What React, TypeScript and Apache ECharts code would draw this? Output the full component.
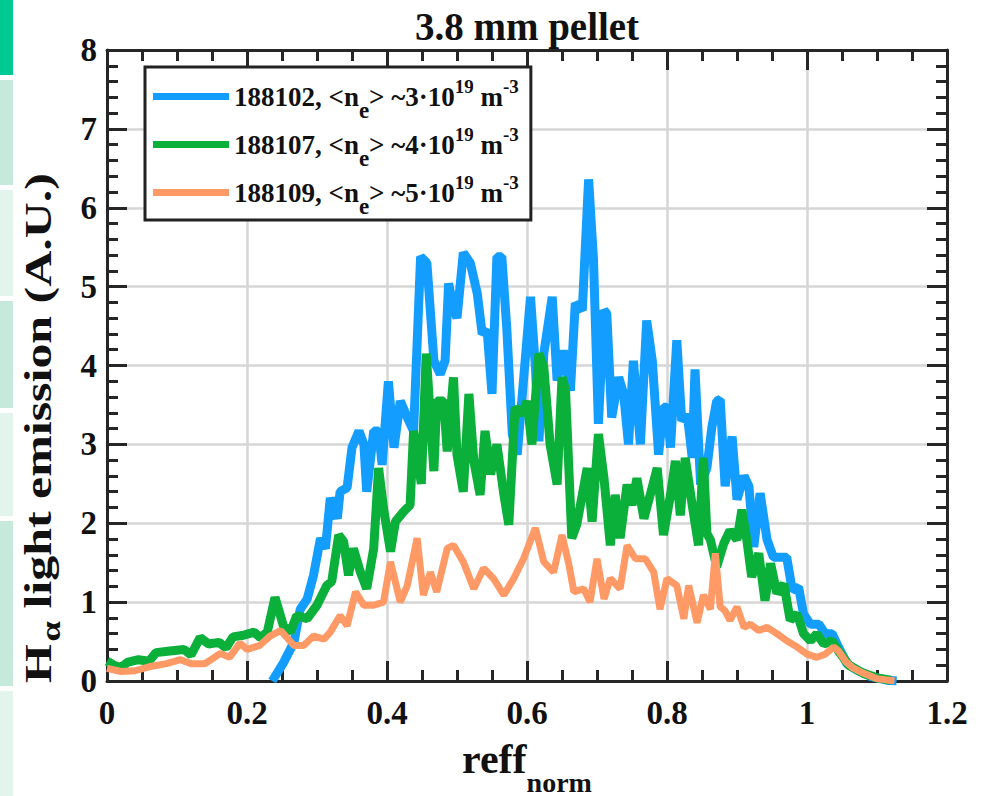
import React, { useEffect, useRef } from "react";
import * as echarts from "echarts";

// ---- data (reff_norm, H-alpha emission A.U.) ----
const seriesNames = ["188102", "188107", "188109"];

const blueX = [0.236, 0.252, 0.267, 0.276, 0.286, 0.295, 0.305, 0.312, 0.319, 0.329, 0.333, 0.343, 0.35, 0.36, 0.367, 0.371, 0.381, 0.388, 0.393, 0.402, 0.41, 0.419, 0.429, 0.438, 0.448, 0.457, 0.467, 0.476, 0.483, 0.488, 0.495, 0.5, 0.509, 0.519, 0.529, 0.536, 0.543, 0.55, 0.557, 0.564, 0.571, 0.579, 0.586, 0.595, 0.605, 0.612, 0.617, 0.624, 0.636, 0.643, 0.652, 0.662, 0.669, 0.679, 0.688, 0.695, 0.702, 0.71, 0.714, 0.721, 0.731, 0.738, 0.745, 0.752, 0.762, 0.771, 0.779, 0.788, 0.795, 0.8, 0.805, 0.814, 0.821, 0.829, 0.836, 0.84, 0.848, 0.857, 0.864, 0.871, 0.876, 0.883, 0.893, 0.9, 0.91, 0.917, 0.924, 0.933, 0.943, 0.952, 0.962, 0.971, 0.979, 0.988, 0.995, 1.005, 1.017, 1.026, 1.036, 1.045, 1.057, 1.071, 1.09, 1.114, 1.128];
const blueY = [0, 0.23, 0.49, 0.91, 1.04, 1.34, 1.81, 1.68, 2.32, 2.06, 2.4, 2.45, 2.96, 3.17, 3.0, 2.4, 3.17, 3.17, 2.74, 3.8, 2.96, 3.55, 3.34, 3.17, 5.38, 5.3, 4.06, 3.89, 4.06, 5.04, 4.74, 4.6, 5.43, 5.3, 4.91, 4.4, 4.45, 3.64, 5.38, 5.38, 4.49, 3.13, 2.87, 3.81, 4.87, 3.98, 3.04, 4.15, 4.87, 3.81, 4.19, 3.68, 4.79, 4.7, 6.36, 5.34, 3.26, 4.7, 4.66, 3.34, 3.85, 3.64, 3.0, 4.06, 3.0, 4.57, 4.06, 2.87, 3.47, 3.47, 2.96, 4.32, 3.3, 3.38, 2.83, 3.95, 2.49, 2.7, 3.21, 3.55, 3.57, 2.47, 3.1, 2.3, 2.6, 2.47, 1.7, 2.38, 1.79, 1.57, 1.57, 1.57, 1.15, 1.19, 0.85, 0.72, 0.72, 0.6, 0.6, 0.43, 0.22, 0.14, 0.06, 0.01, 0.0];

const greenX = [0, 0.01, 0.02, 0.03, 0.045, 0.06, 0.07, 0.09, 0.11, 0.12, 0.133, 0.145, 0.16, 0.17, 0.18, 0.195, 0.21, 0.219, 0.229, 0.24, 0.252, 0.262, 0.271, 0.286, 0.3, 0.314, 0.321, 0.331, 0.338, 0.345, 0.352, 0.362, 0.371, 0.381, 0.388, 0.395, 0.405, 0.412, 0.424, 0.433, 0.438, 0.445, 0.449, 0.456, 0.467, 0.471, 0.481, 0.486, 0.495, 0.5, 0.509, 0.517, 0.524, 0.533, 0.54, 0.548, 0.557, 0.567, 0.574, 0.583, 0.593, 0.6, 0.607, 0.617, 0.624, 0.633, 0.643, 0.65, 0.655, 0.664, 0.671, 0.679, 0.686, 0.693, 0.702, 0.71, 0.719, 0.726, 0.733, 0.743, 0.75, 0.757, 0.767, 0.776, 0.786, 0.795, 0.805, 0.812, 0.819, 0.826, 0.836, 0.845, 0.852, 0.857, 0.862, 0.871, 0.881, 0.89, 0.9, 0.907, 0.914, 0.921, 0.931, 0.94, 0.948, 0.957, 0.967, 0.976, 0.986, 0.995, 1.005, 1.014, 1.024, 1.036, 1.045, 1.06, 1.08, 1.1, 1.12];
const greenY = [0.25, 0.2, 0.17, 0.24, 0.27, 0.25, 0.36, 0.38, 0.4, 0.33, 0.55, 0.47, 0.49, 0.42, 0.56, 0.58, 0.62, 0.55, 0.62, 1.06, 0.7, 0.62, 0.83, 0.79, 0.96, 1.21, 1.26, 1.85, 1.77, 1.34, 1.68, 1.38, 1.17, 1.68, 2.7, 2.19, 1.64, 2.02, 2.15, 2.23, 3.17, 2.74, 2.5, 4.15, 2.66, 3.55, 3.55, 2.91, 3.85, 2.87, 2.4, 3.64, 2.79, 2.36, 3.17, 2.62, 3.0, 2.36, 1.98, 3.47, 3.38, 3.55, 3.0, 4.15, 3.98, 3.0, 2.49, 3.85, 3.7, 1.81, 1.98, 2.36, 2.7, 2.02, 3.13, 2.57, 1.72, 2.36, 1.81, 2.49, 2.23, 2.57, 2.06, 2.36, 2.7, 1.85, 2.36, 2.79, 2.1, 2.83, 2.23, 1.72, 2.83, 1.87, 1.79, 1.45, 1.74, 1.91, 1.79, 2.17, 1.79, 1.32, 1.62, 1.02, 1.49, 1.11, 1.23, 0.77, 0.85, 0.6, 0.51, 0.6, 0.47, 0.51, 0.38, 0.2, 0.1, 0.04, 0.01];

const orangeX = [0, 0.02, 0.04, 0.06, 0.085, 0.105, 0.12, 0.14, 0.162, 0.175, 0.19, 0.2, 0.218, 0.233, 0.248, 0.267, 0.281, 0.295, 0.31, 0.319, 0.333, 0.343, 0.355, 0.367, 0.381, 0.395, 0.405, 0.419, 0.429, 0.443, 0.452, 0.462, 0.471, 0.486, 0.495, 0.509, 0.524, 0.538, 0.552, 0.567, 0.581, 0.595, 0.612, 0.624, 0.638, 0.65, 0.66, 0.667, 0.681, 0.69, 0.7, 0.71, 0.719, 0.733, 0.743, 0.755, 0.769, 0.781, 0.79, 0.8, 0.814, 0.824, 0.831, 0.843, 0.852, 0.862, 0.869, 0.876, 0.883, 0.89, 0.9, 0.91, 0.919, 0.931, 0.943, 0.957, 0.971, 0.986, 1.0, 1.014, 1.026, 1.038, 1.045, 1.055, 1.065, 1.08, 1.1, 1.125];
const orangeY = [0.16, 0.12, 0.13, 0.18, 0.22, 0.27, 0.22, 0.22, 0.35, 0.3, 0.48, 0.4, 0.45, 0.57, 0.64, 0.45, 0.45, 0.57, 0.53, 0.62, 0.83, 0.7, 1.13, 0.96, 0.96, 1.0, 1.51, 1.0, 1.21, 1.81, 1.09, 1.38, 1.13, 1.68, 1.72, 1.51, 1.17, 1.43, 1.3, 1.09, 1.3, 1.55, 1.94, 1.51, 1.38, 1.85, 1.47, 1.13, 1.17, 1.0, 1.55, 1.04, 1.3, 1.17, 1.72, 1.55, 1.55, 1.38, 0.91, 1.3, 1.21, 0.79, 1.21, 0.74, 1.09, 0.91, 1.62, 0.94, 0.89, 0.77, 0.94, 0.68, 0.72, 0.64, 0.68, 0.6, 0.51, 0.43, 0.34, 0.3, 0.34, 0.43, 0.38, 0.25, 0.17, 0.1, 0.03, 0.0];

const densities = ["3", "4", "5"];
const colors = ["#139eff", "#0bb03b", "#ff9a66"];
const stripBlocks = [
  [0, 75, "#00c993"],
  [80, 185, "#c5eadb"],
  [190, 296, "#e2f4ec"],
  [301, 408, "#c5eadb"],
  [413, 516, "#e2f4ec"],
  [521, 686, "#c5eadb"],
  [691, 796, "#e2f4ec"],
];

const zip = (xs: number[], ys: number[]) => xs.map((x, i) => [x, ys[i]]);

export default function App() {
  const ref = useRef<HTMLDivElement>(null);

  useEffect(() => {
    document.body.style.margin = "0";
    const chart = echarts.init(ref.current!, null, { renderer: "svg" });
    const serif = "'Liberation Serif', 'Times New Roman', serif";
    const ink = "#111111";
    const axisColor = "#262626";

    const legendLabel: Record<string, string> = {};
    seriesNames.forEach((n, i) => {
      legendLabel[n] = `{n|${n}, <n}{e|e}{n|> ~${densities[i]}·10}{s|19}{n| m}{s|-3}`;
    });

    const xBase = {
      type: "value",
      min: 0,
      max: 1.2,
      interval: 0.2,
      axisLine: { show: true, onZero: false, lineStyle: { color: axisColor, width: 3 } },
      axisTick: { show: true, inside: true, length: 20, lineStyle: { color: axisColor, width: 3 } },
      minorTick: { show: true, splitNumber: 4, length: 11, lineStyle: { color: axisColor, width: 3 } },
    };
    const yBase = {
      type: "value",
      min: 0,
      max: 8,
      interval: 1,
      axisLine: { show: true, onZero: false, lineStyle: { color: axisColor, width: 3 } },
      axisTick: { show: true, inside: true, length: 20, lineStyle: { color: axisColor, width: 3 } },
      minorTick: { show: true, splitNumber: 5, length: 11, lineStyle: { color: axisColor, width: 3 } },
    };
    const tickLabel = { fontFamily: serif, fontWeight: "bold", fontSize: 33, color: ink };

    const option: any = {
      animation: false,
      backgroundColor: "#ffffff",
      grid: { left: 107, right: 37, top: 50, bottom: 115, containLabel: false, outerBoundsMode: "none" },
      legend: {
        orient: "vertical",
        left: 145,
        top: 67,
        data: seriesNames,
        icon: "rect",
        itemWidth: 76,
        itemHeight: 7,
        itemGap: -3,
        padding: [4, 12, 2, 8],
        backgroundColor: "#ffffff",
        borderColor: "#222222",
        borderWidth: 3,
        formatter: (name: string) => legendLabel[name],
        textStyle: {
          color: ink,
          lineHeight: 44,
          rich: {
            n: { fontFamily: serif, fontWeight: "bold", fontSize: 27, lineHeight: 44, color: ink },
            e: { fontFamily: serif, fontWeight: "bold", fontSize: 23, lineHeight: 44, padding: [28, 0, 0, 0], color: ink },
            s: { fontFamily: serif, fontWeight: "bold", fontSize: 19, lineHeight: 44, padding: [0, 0, 20, 0], color: ink },
          },
        },
      },
      xAxis: [
        {
          ...xBase,
          position: "bottom",
          splitLine: { show: true, lineStyle: { color: "#d6d6d6", width: 2.5 } },
          axisLabel: { ...tickLabel, margin: 15, formatter: (v: number) => String(+v.toFixed(1)) },
          name: "{b|reff}{s|norm}",
          nameLocation: "middle",
          nameGap: 41,
          nameTextStyle: {
            rich: {
              b: { fontFamily: serif, fontWeight: "bold", fontSize: 42, lineHeight: 50, color: ink },
              s: { fontFamily: serif, fontWeight: "bold", fontSize: 28, padding: [46, 0, 0, 0], color: ink },
            },
          },
        },
        { ...xBase, position: "top", splitLine: { show: false }, axisLabel: { show: false } },
      ],
      yAxis: [
        {
          ...yBase,
          position: "left",
          splitLine: { show: true, lineStyle: { color: "#d6d6d6", width: 2.5 } },
          axisLabel: { ...tickLabel, margin: 10 },
        },
        { ...yBase, position: "right", splitLine: { show: false }, axisLabel: { show: false } },
      ],
      series: [
        { x: blueX, y: blueY, w: 9 },
        { x: greenX, y: greenY, w: 9 },
        { x: orangeX, y: orangeY, w: 7 },
      ].map((s, i) => ({
        type: "line",
        name: seriesNames[i],
        data: zip(s.x, s.y),
        xAxisIndex: 0,
        yAxisIndex: 0,
        symbol: "none",
        showSymbol: false,
        lineStyle: { color: colors[i], width: s.w },
        itemStyle: { color: colors[i] },
        z: 2 + i,
      })),
      graphic: [
        ...stripBlocks.map(([y0, y1, c]) => ({
          type: "rect",
          shape: { x: 0, y: y0 as number, width: 13, height: (y1 as number) - (y0 as number) },
          style: { fill: c as string },
          silent: true,
        })),
        {
          type: "text",
          x: 527,
          y: 26,
          style: {
            text: "3.8 mm pellet",
            align: "center",
            verticalAlign: "middle",
            fontFamily: serif,
            fontWeight: "bold",
            fontSize: 39,
            fill: ink,
          },
        },
        {
          type: "text",
          x: 39,
          y: 428,
          rotation: Math.PI / 2,
          scaleX: 1.35,
          scaleY: 1,
          style: {
            text: "{b|H}{a|α}{b| light emission (A.U.)}",
            align: "center",
            verticalAlign: "middle",
            rich: {
              b: { fontFamily: serif, fontWeight: "bold", fontSize: 37, lineHeight: 44, fill: ink, color: ink },
              a: { fontFamily: serif, fontWeight: "bold", fontSize: 27, padding: [24, 0, 0, 2], fill: ink, color: ink },
            },
          },
        },
      ],
    };

    chart.setOption(option);
    return () => chart.dispose();
  }, []);

  return (
    <div
      ref={ref}
      style={{ position: "absolute", left: 0, top: 0, width: 984, height: 796 }}
    />
  );
}
